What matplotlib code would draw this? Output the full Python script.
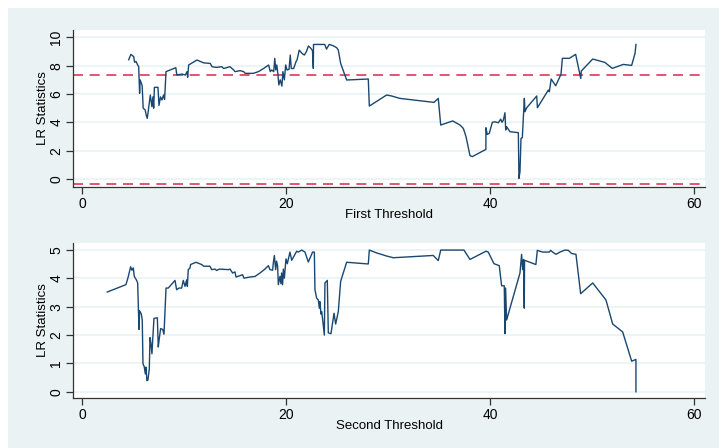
import matplotlib
matplotlib.use("Agg")
import matplotlib.pyplot as plt
from matplotlib.patches import Rectangle

plt.rcParams['font.family'] = ['Liberation Sans', 'DejaVu Sans']

# first threshold LR sequence
th1 = [4.58, 4.8, 5.07, 5.16, 5.3, 5.46, 5.56, 5.65, 5.7, 5.9, 6.0, 6.2, 6.3, 6.4, 6.47,
       6.7, 6.86, 6.96, 7.03, 7.1, 7.45, 7.55, 7.7, 7.84, 8.0, 8.1, 8.24, 8.66, 9.2, 9.3,
       9.8, 10.13, 10.3, 10.36, 10.46, 10.8, 11.27, 11.93, 12.58, 12.74, 13.2, 13.7, 13.9,
       14.5, 14.87, 15.0, 15.5, 15.85, 16.0, 16.8, 17.3, 17.8, 18.3, 18.46, 18.6, 18.8,
       18.9, 19.0, 19.1, 19.2, 19.3, 19.44, 19.6, 19.7, 19.84, 19.97, 20.1, 20.3, 20.42,
       20.52, 20.75, 20.98, 21.08, 21.3, 21.57, 21.8, 22.0, 22.2, 22.45, 22.6, 22.68, 22.7,
       22.8, 23.8, 23.97, 24.24, 24.63, 24.97, 25.13, 25.36, 25.95, 28.07, 28.17, 29.87,
       30.36, 31.17, 34.51, 34.93, 35.17, 36.35, 37.06, 37.39, 37.65, 38.04, 38.27, 39.6,
       39.6, 39.73, 39.93, 40.23, 40.49, 40.82, 41.05, 41.18, 41.31, 41.47, 41.54, 41.63,
       41.96, 42.78, 42.84, 42.94, 43.04, 43.17, 43.37, 43.43, 43.6, 44.58, 44.65, 45.72,
       45.82, 46.0, 46.44, 46.96, 47.1, 47.78, 48.4, 48.76, 48.9, 48.95, 50.07, 51.27,
       51.99, 53.07, 53.89, 54.22, 54.31]
lr1 = [8.42, 8.8, 8.64, 8.24, 8.3, 8.05, 7.93, 6.05, 7.0, 6.6, 5.0, 4.87, 4.5, 4.28, 4.64,
       5.93, 5.1, 5.8, 5.0, 6.47, 6.47, 5.2, 5.8, 5.58, 5.93, 5.62, 7.58, 7.7, 7.86, 7.34,
       7.41, 7.34, 7.58, 7.18, 8.05, 8.2, 8.4, 8.2, 8.16, 7.93, 7.88, 7.93, 7.8,
       7.93, 7.7, 7.58, 7.65, 7.58, 7.46, 7.46, 7.58, 7.8, 8.05, 7.58, 7.7, 7.58,
       8.52, 7.7, 8.05, 7.46, 6.64, 7.0, 6.56, 7.58, 7.0, 8.05, 7.7, 7.74, 8.75,
       7.8, 7.8, 8.28, 8.4, 9.1, 8.87, 8.75, 8.99, 9.39, 9.22, 9.06, 7.81, 9.5,
       9.5, 9.5, 9.17, 9.5, 9.41, 9.27, 9.1, 8.16, 6.99, 7.06, 5.15, 5.93,
       5.86, 5.69, 5.41, 5.69, 3.81, 4.1, 3.81, 3.57, 2.99, 1.65, 1.58, 2.09,
       3.62, 3.15, 3.22, 4.0, 4.04, 3.97, 4.23, 4.0, 4.16, 4.68, 3.46, 3.69,
       3.34, 3.27, 0.04, 0.51, 2.87, 2.92, 5.69, 4.75, 5.03, 5.86, 5.03, 6.28,
       6.16, 7.06, 6.58, 7.39, 8.52, 8.52, 8.8, 7.58, 7.1, 7.62, 8.47, 8.23,
       7.81, 8.09, 8.02, 8.87, 9.5]

# second threshold LR sequence
th2 = [2.48, 4.31, 4.53, 4.77, 4.9, 5.03, 5.13, 5.36, 5.46, 5.59, 5.65, 5.82, 5.91, 5.98,
       6.1, 6.21, 6.27, 6.37, 6.47, 6.6, 6.67, 6.76, 6.86, 6.93, 7.06, 7.39, 7.48, 7.58,
       7.71, 7.91, 8.04, 8.24, 8.46, 9.12, 9.28, 9.51, 9.77, 9.93, 10.1, 10.26, 10.33,
       10.42, 10.59, 10.65, 11.18, 11.73, 11.96, 12.55, 12.71, 13.04, 13.2, 13.46, 14.35,
       14.51, 14.77, 15.0, 15.1, 15.49, 15.75, 15.88, 16.47, 16.96, 17.45, 17.94, 18.27,
       18.43, 18.69, 18.76, 18.86, 18.99, 19.08, 19.18, 19.25, 19.41, 19.51, 19.57, 19.67,
       19.74, 19.84, 20.0, 20.13, 20.39, 20.56, 21.05, 21.21, 21.54, 21.86, 22.19, 22.61,
       22.78, 22.84, 23.01, 23.17, 23.27, 23.33, 23.43, 23.5, 23.6, 23.76, 23.82, 24.05,
       24.15, 24.41, 24.71, 24.87, 25.13, 25.36, 25.95, 28.07, 28.17, 28.89, 29.87, 30.52,
       34.44, 34.93, 35.17, 37.45, 38.04, 39.61, 39.83, 40.39, 40.91, 41.14, 41.4, 41.47,
       41.53, 41.63, 42.94, 43.1, 43.2, 43.29, 43.36, 43.39, 44.5, 44.64, 45.16, 45.82,
       45.95, 46.14, 46.47, 46.86, 47.35, 47.68, 48.0, 48.43, 48.89, 50.07, 51.37, 52.03,
       53.01, 53.89, 54.31, 54.31]
lr2 = [3.52, 3.78, 4.05, 4.41, 4.29, 4.37, 4.07, 3.93, 3.84, 2.2, 2.86, 2.74, 2.53, 0.99,
       0.89, 0.63, 0.87, 0.39, 0.42, 0.81, 1.91, 1.7, 1.34, 1.82, 2.59, 2.61, 1.58, 1.88,
       2.23, 2.2, 2.03, 3.66, 3.66, 3.93, 3.6, 3.66, 3.66, 3.93, 3.72, 3.95, 3.72,
       4.31, 4.37, 4.49, 4.57, 4.49, 4.43, 4.43, 4.31, 4.33, 4.28, 4.33, 4.31,
       4.33, 4.19, 4.23, 4.05, 4.1, 4.13, 4.01, 4.05, 4.07, 4.19, 4.33, 4.45,
       4.31, 4.29, 4.55, 4.81, 4.31, 4.61, 4.43, 3.78, 4.07, 3.81, 4.19, 3.78,
       4.33, 4.01, 4.69, 4.52, 4.93, 4.64, 4.96, 4.93, 5.0, 4.93, 4.58, 4.93,
       4.93, 3.6, 3.3, 3.24, 2.95, 3.18, 2.74, 2.83, 2.53, 2.0, 3.84, 3.93,
       2.08, 2.05, 2.77, 2.39, 2.83, 3.9, 4.57, 4.51, 5.0, 4.9, 4.79, 4.73,
       4.81, 4.63, 5.0, 5.0, 4.67, 4.96, 4.93, 4.52, 4.45, 3.74, 3.74, 2.05,
       3.66, 2.53, 4.19, 4.85, 4.31, 4.67, 2.95, 4.64, 4.49, 4.99, 4.93, 4.93,
       4.99, 4.93, 4.85, 4.93, 5.0, 4.99, 4.88, 4.85, 3.46, 3.84, 3.24, 2.39,
       2.11, 1.08, 1.14, 0.0]

crit_lines = [7.35, -0.33]

bg = '#eaf2f3'
navy = '#1a476f'
red = '#d93a5c'

fig = plt.figure(figsize=(7.19, 4.48), dpi=100, facecolor='white')
fig.patches.append(Rectangle((8 / 719, 0), 711 / 719, 440 / 448, transform=fig.transFigure,
                             facecolor=bg, edgecolor='none', zorder=-1))

ax1 = fig.add_axes([73 / 719, 1 - 187 / 448, 632 / 719, 157 / 448])
ax2 = fig.add_axes([73 / 719, 1 - 398 / 448, 632 / 719, 155 / 448])


def style(ax, yticks, ylim, xlabel):
    ax.set_facecolor('white')
    ax.set_xlim(-0.88, 61.08)
    ax.set_ylim(*ylim)
    ax.set_xticks([0, 20, 40, 60])
    ax.set_yticks(yticks)
    for yt in yticks:
        ax.axhline(yt, color=bg, lw=1.2, zorder=0)
    for s in ['top', 'right']:
        ax.spines[s].set_visible(False)
    for s in ['left', 'bottom']:
        ax.spines[s].set_color('#333333')
        ax.spines[s].set_linewidth(0.9)
    ax.tick_params(direction='out', length=5, width=0.9, color='#333333',
                   labelsize=10, pad=2)
    for lab in ax.get_yticklabels():
        lab.set_rotation(90)
        lab.set_va('center')
    ax.set_xlabel(xlabel, fontsize=9.5, labelpad=-1)
    ax.set_ylabel('LR Statistics', fontsize=9.5, labelpad=0)


ax1.plot(th1, lr1, color=navy, lw=1.0, zorder=3)
for c in crit_lines:
    ax1.axhline(c, color=red, lw=1.2, ls=(0, (6, 4)), zorder=2)
style(ax1, [0, 2, 4, 6, 8, 10], (-0.565, 10.52), 'First Threshold')

ax2.plot(th2, lr2, color=navy, lw=1.0, zorder=3)
style(ax2, [0, 1, 2, 3, 4, 5], (-0.22, 5.25), 'Second Threshold')

fig.savefig('out.png', dpi=100, facecolor='white')
